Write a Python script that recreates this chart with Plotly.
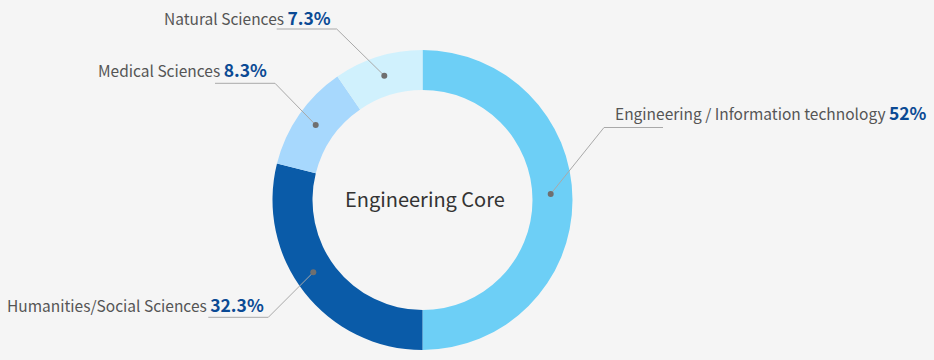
import plotly.graph_objects as go

# ---- data ----
categories = ["Engineering / Information technology", "Humanities/Social Sciences",
              "Medical Sciences", "Natural Sciences"]
label_pct = ["52%", "32.3%", "8.3%", "7.3%"]
arc_share = [50.0, 28.9, 11.5, 9.6]          # share of the ring as drawn
colors = ["#6dcff6", "#0a5ba8", "#a7d8fd", "#d0f1fd"]
center_title = "Engineering Core"

W, H = 934, 360
CX, CY, R = 422.5, 200, 150

def px(x):
    return x / W

def py(y):
    return 1 - y / H

fig = go.Figure(go.Pie(
    values=arc_share,
    labels=categories,
    marker=dict(colors=colors, line=dict(width=0)),
    hole=110 / 150,
    sort=False,
    direction="clockwise",
    rotation=0,
    textinfo="none",
    hoverinfo="label",
    showlegend=False,
    domain=dict(x=[px(CX - R), px(CX + R)], y=[py(CY + R), py(CY - R)]),
))

# leader geometry: (dot, elbow, end, text anchor x, text y, side)
leaders = [
    ((550.7, 194), (604, 127.5), (663, 127.5), 613, 112, "left"),
    ((313.3, 272.3), (268.3, 317.3), (208.3, 317.3), 266, 304, "right"),
    ((315.7, 125), (275, 83.3), (215, 83.3), 268.5, 70, "right"),
    ((384.3, 75.7), (336.7, 29), (276.7, 29), 333, 17, "right"),
]

shapes = []
annotations = []
for i, (dot, elbow, end, tx, ty, side) in enumerate(leaders):
    path = "M {} {} L {} {} L {} {}".format(px(dot[0]), py(dot[1]), px(elbow[0]), py(elbow[1]),
                                           px(end[0]), py(end[1]))
    shapes.append(dict(type="path", path=path, xref="paper", yref="paper",
                       line=dict(color="#a9a9a9", width=1)))
    rr = 3
    shapes.append(dict(type="circle", xref="paper", yref="paper",
                       x0=px(dot[0] - rr), x1=px(dot[0] + rr),
                       y0=py(dot[1] + rr), y1=py(dot[1] - rr),
                       fillcolor="#6f6f6f", line=dict(width=0)))
    annotations.append(dict(
        x=px(tx), y=py(ty), xref="paper", yref="paper",
        xanchor=side, yanchor="middle", showarrow=False,
        text="{} <b><span style='color:#0b4a94;font-size:17.5px'>{}</span></b>".format(
            categories[i], label_pct[i]),
        font=dict(family="Noto Sans CJK KR", size=15.5, color="#555555"),
    ))

annotations.append(dict(
    x=px(CX + 2), y=py(CY - 2), xref="paper", yref="paper", showarrow=False,
    xanchor="center", yanchor="middle", text=center_title,
    font=dict(family="Noto Sans CJK KR", size=20, color="#333333"),
))

fig.update_layout(
    width=W, height=H,
    margin=dict(l=0, r=0, t=0, b=0),
    paper_bgcolor="#f5f5f5", plot_bgcolor="#f5f5f5",
    shapes=shapes, annotations=annotations,
)

fig.write_html("out.html", config={"displayModeBar": False},
               post_script="document.body.style.margin='0';document.body.style.background='#f5f5f5';")
